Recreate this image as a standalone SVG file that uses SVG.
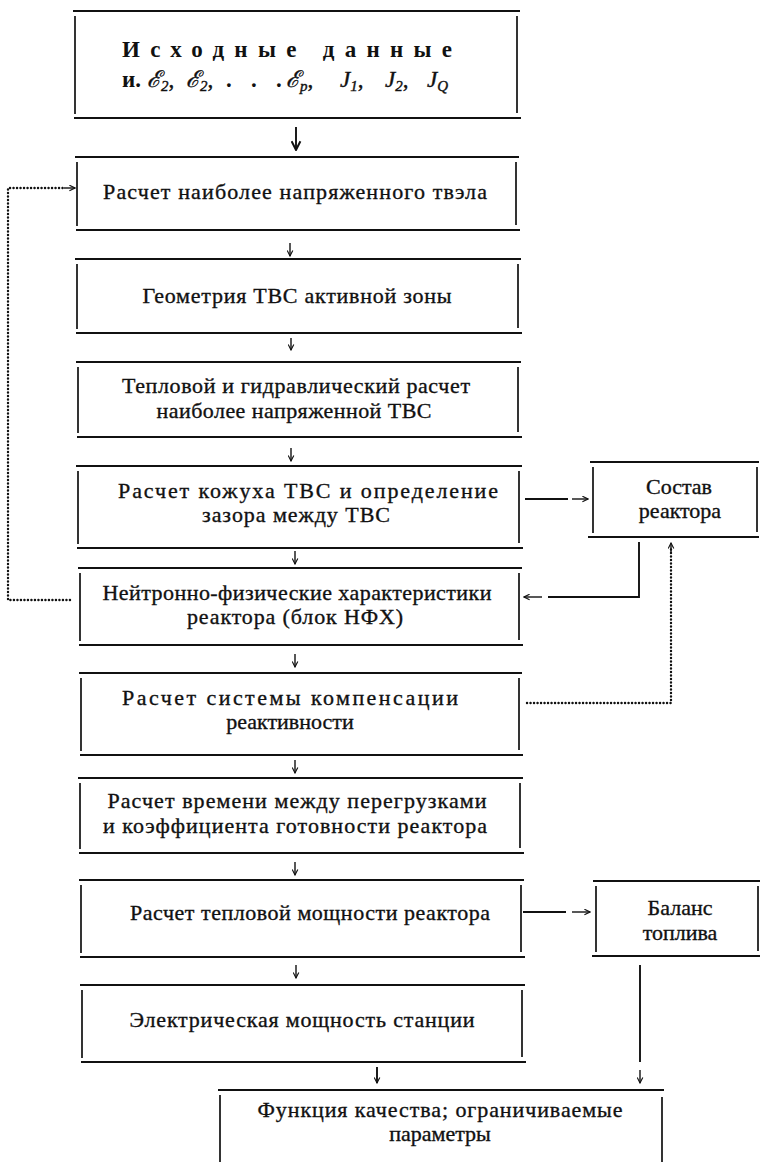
<svg xmlns="http://www.w3.org/2000/svg" width="760" height="1163" viewBox="0 0 760 1163">
<style>
  .h { stroke:#111; stroke-width:2.2; fill:none; }
  .v { stroke:#111; stroke-width:1.7; fill:none; }
  .t { font-family:"Liberation Serif","DejaVu Serif",serif; font-size:22px; fill:#111; stroke:#111; stroke-width:0.35; text-anchor:middle; }
  .b { font-family:"Liberation Serif","DejaVu Serif",serif; font-size:23px; font-weight:bold; fill:#111; }
  .m { font-family:"Liberation Serif","DejaVu Serif",serif; font-size:23px; font-style:italic; fill:#111; stroke:#111; stroke-width:0.4; }
  .s { font-size:15px; font-style:italic; }
  .c { stroke:#111; stroke-width:1.4; fill:none; }
  .cs { stroke:#111; stroke-width:1.9; fill:none; }
  .d { stroke:#111; stroke-width:2.4; fill:none; stroke-dasharray:0.1 3.4; stroke-linecap:round; }
</style>
<defs>
  <marker id="ah" viewBox="0 0 10 10" refX="9" refY="5" markerWidth="7" markerHeight="7" markerUnits="userSpaceOnUse" orient="auto">
    <path d="M1,1 L9,5 L1,9" fill="none" stroke="#111" stroke-width="1.6"/>
  </marker>
  <marker id="ahb" viewBox="0 0 10 10" refX="9" refY="5" markerWidth="11" markerHeight="11" markerUnits="userSpaceOnUse" orient="auto">
    <path d="M1,1 L9,5 L1,9" fill="none" stroke="#111" stroke-width="1.8"/>
  </marker>
</defs>

<g id="n1">
  <path class="h" d="M73,11 H520 M74,118 H521"/>
  <path class="v" d="M75,16 V114 M517,16 V113"/>
  <text class="b" x="122" y="57" textLength="330" lengthAdjust="spacing">Исходные данные</text>
  <text class="b" x="122" y="87">и.</text>
  <text class="m" x="147" y="87">ℰ<tspan class="s" dy="4">2</tspan><tspan dy="-4" font-style="normal">,</tspan></text>
  <text class="m" x="186" y="87">ℰ<tspan class="s" dy="4">2</tspan><tspan dy="-4" font-style="normal">,</tspan></text>
  <text class="b" x="226" y="87">.</text>
  <text class="b" x="251" y="87">.</text>
  <text class="b" x="276" y="87">.</text>
  <text class="m" x="286" y="87">ℰ<tspan class="s" dy="4">p</tspan><tspan dy="-4" font-style="normal">,</tspan></text>
  <text class="m" x="340" y="87">J<tspan class="s" dy="4" font-style="normal">1</tspan><tspan dy="-4" font-style="normal">,</tspan></text>
  <text class="m" x="385" y="87">J<tspan class="s" dy="4" font-style="normal">2</tspan><tspan dy="-4" font-style="normal">,</tspan></text>
  <text class="m" x="427" y="87">J<tspan class="s" dy="4">Q</tspan></text>
</g>

<g id="n2">
  <path class="h" d="M75,157 H519 M76,230 H520"/>
  <path class="v" d="M77,162 V226 M516,162 V225"/>
  <text class="t" x="295" y="199" textLength="384" lengthAdjust="spacing">Расчет наиболее напряженного твэла</text>
</g>

<g id="n3">
  <path class="h" d="M75,259 H521 M76,333 H522"/>
  <path class="v" d="M77,264 V329 M518,264 V328"/>
  <text class="t" x="297" y="303" textLength="309" lengthAdjust="spacing">Геометрия ТВС активной зоны</text>
</g>

<g id="n4">
  <path class="h" d="M76,362 H521 M77,437 H522"/>
  <path class="v" d="M78,367 V433 M518,367 V432"/>
  <text class="t" x="296" y="393" textLength="348" lengthAdjust="spacing">Тепловой и гидравлический расчет</text>
  <text class="t" x="294" y="418" textLength="275" lengthAdjust="spacing">наиболее напряженной ТВС</text>
</g>

<g id="n5">
  <path class="h" d="M76,466 H522 M77,548 H523"/>
  <path class="v" d="M78,471 V544 M519,471 V543"/>
  <text class="t" x="308" y="498" textLength="380" lengthAdjust="spacing">Расчет кожуха ТВС и определение</text>
  <text class="t" x="296" y="522" textLength="188" lengthAdjust="spacing">зазора между ТВС</text>
</g>

<g id="n6">
  <path class="h" d="M78,568 H522 M79,645 H523"/>
  <path class="v" d="M80,573 V641 M519,573 V640"/>
  <text class="t" x="297" y="600" textLength="389" lengthAdjust="spacing">Нейтронно-физические характеристики</text>
  <text class="t" x="295" y="624" textLength="216" lengthAdjust="spacing">реактора (блок НФХ)</text>
</g>

<g id="n7">
  <path class="h" d="M79,673 H522 M80,755 H523"/>
  <path class="v" d="M81,678 V751 M519,678 V750"/>
  <text class="t" x="290" y="705" textLength="336" lengthAdjust="spacing">Расчет системы  компенсации</text>
  <text class="t" x="290" y="729">реактивности</text>
</g>

<g id="n8">
  <path class="h" d="M78,778 H523 M79,853 H524"/>
  <path class="v" d="M80,783 V849 M520,783 V848"/>
  <text class="t" x="297" y="808" textLength="379" lengthAdjust="spacing">Расчет времени между перегрузками</text>
  <text class="t" x="295" y="833" textLength="384" lengthAdjust="spacing">и коэффициента готовности реактора</text>
</g>

<g id="n9">
  <path class="h" d="M79,880 H524 M80,957 H525"/>
  <path class="v" d="M81,885 V953 M521,885 V952"/>
  <text class="t" x="310" y="920" textLength="360" lengthAdjust="spacing">Расчет тепловой мощности реактора</text>
</g>

<g id="n10">
  <path class="h" d="M80,985 H525 M81,1062 H526"/>
  <path class="v" d="M82,990 V1058 M522,990 V1057"/>
  <text class="t" x="302" y="1027" textLength="345" lengthAdjust="spacing">Электрическая мощность станции</text>
</g>

<g id="n11">
  <path class="h" d="M218,1090 H664"/>
  <path class="v" d="M220,1095 V1162 M662,1097 V1162"/>
  <text class="t" x="440" y="1117" textLength="365" lengthAdjust="spacing">Функция качества; ограничиваемые</text>
  <text class="t" x="440" y="1141">параметры</text>
</g>

<g id="n12">
  <path class="h" d="M590,462 H759 M588,537 H759"/>
  <path class="v" d="M593,467 V533 M757,467 V532"/>
  <text class="t" x="679" y="494">Состав</text>
  <text class="t" x="680" y="518">реактора</text>
</g>

<g id="n13">
  <path class="h" d="M593,881 H760 M592,956 H760"/>
  <path class="v" d="M596,886 V952 M758,886 V951"/>
  <text class="t" x="680" y="915">Баланс</text>
  <text class="t" x="680" y="940">топлива</text>
</g>

<g id="connectors">
  <line class="cs" x1="296" y1="127" x2="296" y2="150" marker-end="url(#ahb)"/>
  <line class="c" x1="290" y1="243" x2="290" y2="256" marker-end="url(#ah)"/>
  <line class="c" x1="291" y1="338" x2="291" y2="350" marker-end="url(#ah)"/>
  <line class="c" x1="291" y1="448" x2="291" y2="461" marker-end="url(#ah)"/>
  <line class="c" x1="295" y1="551" x2="295" y2="564" marker-end="url(#ah)"/>
  <line class="c" x1="295" y1="654" x2="295" y2="667" marker-end="url(#ah)"/>
  <line class="c" x1="295" y1="760" x2="295" y2="773" marker-end="url(#ah)"/>
  <line class="c" x1="295" y1="862" x2="295" y2="875" marker-end="url(#ah)"/>
  <line class="c" x1="296" y1="965" x2="296" y2="978" marker-end="url(#ah)"/>
  <line class="cs" x1="377" y1="1067" x2="377" y2="1083" marker-end="url(#ah)"/>
  <line class="cs" x1="525" y1="499" x2="568" y2="499"/>
  <line class="c" x1="572" y1="499" x2="588" y2="499" marker-end="url(#ah)"/>
  <path class="cs" d="M639,542 V597 H548"/>
  <line class="c" x1="542" y1="597" x2="524" y2="597" marker-end="url(#ah)"/>
  <path class="d" d="M527,703 H671 V548"/>
  <line class="c" x1="671" y1="552" x2="671" y2="543" marker-end="url(#ah)"/>
  <path class="d" d="M70,600 H8 V188 H66"/>
  <line class="c" x1="64" y1="188" x2="75" y2="188" marker-end="url(#ah)"/>
  <line class="cs" x1="523" y1="912" x2="566" y2="912"/>
  <line class="c" x1="572" y1="912" x2="590" y2="912" marker-end="url(#ah)"/>
  <line class="cs" x1="640" y1="965" x2="640" y2="1062"/>
  <line class="c" x1="640" y1="1070" x2="640" y2="1083" marker-end="url(#ah)"/>
</g>
</svg>
